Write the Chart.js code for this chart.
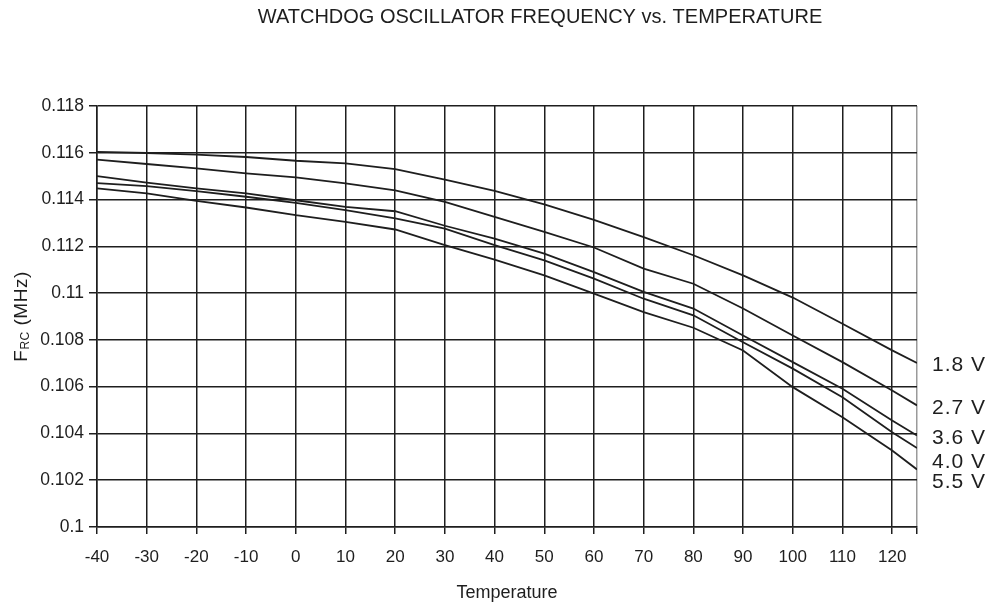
<!DOCTYPE html>
<html>
<head>
<meta charset="utf-8">
<script src="https://cdn.jsdelivr.net/npm/chart.js@4.4.1/dist/chart.umd.min.js"></script>
<style>
  html, body { margin: 0; padding: 0; background: #fff; }
  #wrap { position: relative; width: 992px; height: 607px; }
</style>
</head>
<body>
<div id="wrap"><canvas id="wdtChart" width="992" height="607"></canvas></div>
<script>
// chart data
const chartTitle = 'WATCHDOG OSCILLATOR FREQUENCY vs. TEMPERATURE';
const temps = [-40, -30, -20, -10, 0, 10, 20, 30, 40, 50, 60, 70, 80, 90, 100, 110, 120, 125];
const xTicks = [-40, -30, -20, -10, 0, 10, 20, 30, 40, 50, 60, 70, 80, 90, 100, 110, 120, 125];
const yTicks = [0.1, 0.102, 0.104, 0.106, 0.108, 0.11, 0.112, 0.114, 0.116, 0.118];

const f18 = [0.11604, 0.11599, 0.11592, 0.11582, 0.11566, 0.11555, 0.11530, 0.11485, 0.11437, 0.11379, 0.11313, 0.11239, 0.11162, 0.11076, 0.10981, 0.10869, 0.10755, 0.10701];
const f27 = [0.11571, 0.11552, 0.11533, 0.11512, 0.11495, 0.11469, 0.11439, 0.11390, 0.11326, 0.11262, 0.11195, 0.11105, 0.11040, 0.10934, 0.10819, 0.10705, 0.10584, 0.10520];
const f36 = [0.11500, 0.11472, 0.11448, 0.11426, 0.11397, 0.11369, 0.11350, 0.11288, 0.11233, 0.11169, 0.11090, 0.11005, 0.10934, 0.10819, 0.10705, 0.10591, 0.10455, 0.10391];
const f40 = [0.11470, 0.11457, 0.11436, 0.11412, 0.11386, 0.11355, 0.11320, 0.11276, 0.11205, 0.11140, 0.11062, 0.10976, 0.10905, 0.10790, 0.10677, 0.10555, 0.10405, 0.10338];
const f55 = [0.11448, 0.11426, 0.11394, 0.11366, 0.11333, 0.11305, 0.11272, 0.11205, 0.11143, 0.11076, 0.10998, 0.10919, 0.10852, 0.10755, 0.10598, 0.10469, 0.10327, 0.10246];

const seriesNames = ['1.8 V', '2.7 V', '3.6 V', '4.0 V', '5.5 V'];
// where each voltage tag sits on the y axis (MHz)
const tagLevels = [0.10691, 0.10507, 0.10378, 0.10275, 0.10190];

const ink = '#1e1e1e';
const font = 'Liberation Sans, Arial, Helvetica, sans-serif';

function pairs(vals) {
    return vals.map((v, i) => ({ x: temps[i], y: v }));
}

const datasets = [f18, f27, f36, f40, f55].map((vals, i) => ({
    label: seriesNames[i],
    data: pairs(vals),
    borderColor: ink,
    borderWidth: 1.8,
    pointRadius: 0,
    tension: 0,
    fill: false
}));

// title, y-axis caption with subscript, and the voltage tags
const extraText = {
    id: 'extraText',
    afterDraw(chart) {
        const ctx = chart.ctx;
        const y = chart.scales.y;
        const area = chart.chartArea;
        ctx.save();
        ctx.fillStyle = ink;

        ctx.font = '20px ' + font;
        ctx.textAlign = 'center';
        ctx.textBaseline = 'middle';
        ctx.fillText(chartTitle, 540, 17);

        // voltage tags right of the plot
        ctx.font = '21px ' + font;
        ctx.textAlign = 'left';
        ctx.letterSpacing = '1px';
        seriesNames.forEach((name, i) => {
            ctx.fillText(name, area.right + 15, y.getPixelForValue(tagLevels[i]));
        });
        ctx.letterSpacing = '0px';

        // F_RC (MHz), rotated
        ctx.translate(22, (area.top + area.bottom) / 2);
        ctx.rotate(-Math.PI / 2);
        ctx.textBaseline = 'middle';
        ctx.letterSpacing = '0.5px';
        ctx.font = '19px ' + font;
        const wF = ctx.measureText('F').width;
        ctx.font = '12px ' + font;
        const wRC = ctx.measureText('RC').width;
        ctx.font = '19px ' + font;
        const wRest = ctx.measureText(' (MHz)').width;
        let cx = -(wF + wRC + wRest) / 2;
        ctx.textAlign = 'left';
        ctx.fillText('F', cx, 0);
        cx += wF;
        ctx.font = '12px ' + font;
        ctx.fillText('RC', cx, 4);
        cx += wRC;
        ctx.font = '19px ' + font;
        ctx.fillText(' (MHz)', cx, 0);
        ctx.restore();
    }
};

const ctx = document.getElementById('wdtChart').getContext('2d');
new Chart(ctx, {
    type: 'line',
    data: { datasets: datasets },
    options: {
        responsive: false,
        animation: false,
        layout: { padding: { top: 106, right: 75, bottom: 0, left: 0 } },
        plugins: {
            legend: { display: false },
            tooltip: { enabled: false },
            title: { display: false }
        },
        scales: {
            x: {
                type: 'linear',
                min: -40,
                max: 125,
                afterBuildTicks: axis => { axis.ticks = xTicks.map(v => ({ value: v })); },
                afterFit: axis => { axis.height = 80; },
                grid: {
                    color: c => (c.tick && c.tick.value === 125 ? '#9a9a9a' : ink),
                    lineWidth: 1.5,
                    tickLength: 7,
                    tickColor: ink
                },
                border: { color: ink, width: 1.5 },
                ticks: {
                    color: ink,
                    padding: 13,
                    maxRotation: 0,
                    autoSkip: false,
                    font: { family: font, size: 17 },
                    callback: v => (v === 125 ? '' : String(v))
                },
                title: {
                    display: true,
                    text: 'Temperature',
                    color: ink,
                    font: { family: font, size: 18 },
                    padding: { top: 0, bottom: 3 }
                }
            },
            y: {
                min: 0.1,
                max: 0.118,
                afterBuildTicks: axis => { axis.ticks = yTicks.map(v => ({ value: v })); },
                afterFit: axis => { axis.width = 97; },
                grid: {
                    color: ink,
                    lineWidth: 1.5,
                    tickLength: 8,
                    tickColor: ink
                },
                border: { color: ink, width: 1.5 },
                ticks: {
                    color: ink,
                    padding: 5,
                    autoSkip: false,
                    font: { family: font, size: 17.5 },
                    callback: v => String(+v.toFixed(3))
                }
            }
        }
    },
    plugins: [extraText]
});
</script>
</body>
</html>
